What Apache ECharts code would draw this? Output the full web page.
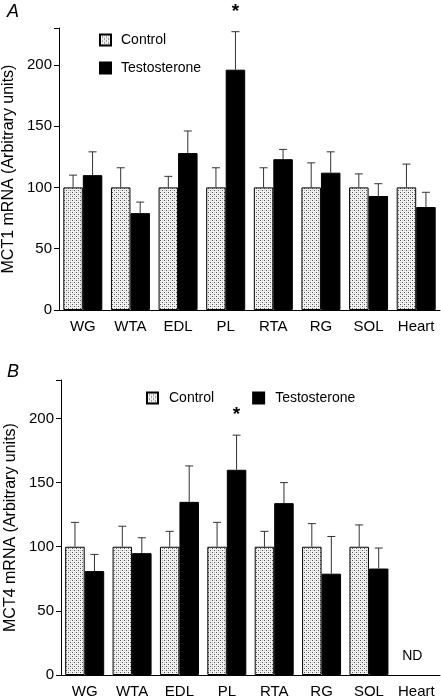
<!DOCTYPE html>
<html>
<head>
<meta charset="utf-8">
<script src="https://cdn.jsdelivr.net/npm/echarts@6/dist/echarts.min.js"></script>
<style>
html,body{margin:0;padding:0;background:#fff;}
#c{width:441px;height:698px;}
</style>
</head>
<body>
<div id="c"></div>
<script>
const categories = ['WG','WTA','EDL','PL','RTA','RG','SOL','Heart'];
const yTicks = [0, 50, 100, 150, 200];
// Panel A: MCT1
const mct1Control    = [100, 100, 100, 100, 100, 100, 100, 100];
const mct1ControlErr = [10, 16, 9, 16, 16, 20, 11, 19];
const mct1Testo      = [110, 79, 128, 196, 123, 112, 93, 84];
const mct1TestoErr   = [19, 9, 18, 31, 8, 17, 10, 12];
const mct1Marks      = ['', '', '', '*', '', '', '', ''];
// Panel B: MCT4
const mct4Control    = [100, 100, 100, 100, 100, 100, 100, null];
const mct4ControlErr = [19, 16, 12, 19, 12, 18, 17, null];
const mct4Testo      = [81, 95, 135, 160, 134, 79, 83, null];
const mct4TestoErr   = [13, 12, 28, 27, 16, 29, 16, null];
const mct4Marks      = ['', '', '', '*', '', '', '', 'ND'];

const FONT = 'Liberation Sans, Arial, sans-serif';
const BW = 19.5;

// stipple pattern for control bars
const pc = document.createElement('canvas');
pc.width = 4; pc.height = 4;
const pctx = pc.getContext('2d');
pctx.fillStyle = '#f2f2f2'; pctx.fillRect(0,0,4,4);
pctx.fillStyle = '#555';
pctx.fillRect(0,0,1,1); pctx.fillRect(2,2,1,1);
pctx.fillStyle = '#c8c8c8';
pctx.fillRect(2,0,1,1); pctx.fillRect(0,2,1,1);
const pattern = {image: pc, repeat: 'repeat'};

function errSeries(name, gi, vals, errs, off){
  return {
    type:'custom', name: name, xAxisIndex: gi, yAxisIndex: gi, z: 5, silent: true,
    legendHoverLink:false,
    data: vals.map((v,i)=>[i, v == null ? NaN : v, errs[i] == null ? NaN : errs[i]]),
    renderItem: function(params, api){
      const i = api.value(0), b = api.value(1), e = api.value(2);
      if (isNaN(b) || isNaN(e)) return;
      const p0 = api.coord([i, b]);
      const p1 = api.coord([i, b + e]);
      const x = p0[0] + off;
      const st = {stroke:'#333', lineWidth:1};
      return {type:'group', children:[
        {type:'line', shape:{x1:x, y1:p0[1], x2:x, y2:p1[1]}, style:st},
        {type:'line', shape:{x1:x-4, y1:p1[1], x2:x+4, y2:p1[1]}, style:st}
      ]};
    }
  };
}

function markSeries(gi, marks, tops){
  return {
    type:'custom', xAxisIndex: gi, yAxisIndex: gi, z: 6, silent:true, clip:false,
    data: marks.map((m,i)=>[i, tops[i] == null ? 0 : tops[i], m]),
    renderItem: function(params, api){
      const i = api.value(0), t = api.value(1);
      const m = marks[i];
      if (!m) return;
      if (m === '*') {
        const p = api.coord([i, t]);
        return {type:'text', x: p[0] + BW/2, y: p[1] - 20,
          style:{text:'*', fontSize:19, fontWeight:'bold', fontFamily:FONT, fill:'#000', align:'center', verticalAlign:'middle'}};
      }
      const p = api.coord([i, 0]);
      return {type:'text', x: p[0] - 4, y: p[1] - 19,
        style:{text:m, fontSize:14, fontFamily:FONT, fill:'#000', align:'center', verticalAlign:'middle'}};
    }
  };
}

const mct1Tops = mct1Testo.map((v,i)=>v + mct1TestoErr[i]);
const mct4Tops = mct4Testo.map((v,i)=>v == null ? null : v + mct4TestoErr[i]);

function xAxis(gi){
  return {
    type:'category', gridIndex: gi, data: categories,
    axisLine:{lineStyle:{color:'#000', width:1}},
    axisTick:{alignWithLabel:true, length:4, lineStyle:{color:'#000'}},
    axisLabel:{color:'#000', fontSize:15, fontFamily:FONT, margin:9, interval:0},
  };
}
function yAxis(gi, name){
  return {
    type:'value', gridIndex: gi, min:0, max:230, interval:50,
    name: name, nameLocation:'middle', nameGap:42, nameRotate:90, nameMoveOverlap:false,
    nameTextStyle:{color:'#000', fontSize:16, fontFamily:FONT},
    axisLine:{show:true, lineStyle:{color:'#000', width:1}},
    axisTick:{show:true, length:5, lineStyle:{color:'#000'}},
    axisLabel:{color:'#000', fontSize:15, fontFamily:FONT, margin:7,
      formatter: v => yTicks.indexOf(v) >= 0 ? String(v) : ''},
    splitLine:{show:false}
  };
}

const barStyleC = {color: pattern, borderColor:'#000', borderWidth:1};
const barStyleT = {color:'#000', borderColor:'#000', borderWidth:1};

const option = {
  animation:false,
  backgroundColor:'#fff',
  title:[
    {text:'A', left:2, top:-2, textStyle:{fontSize:18, fontStyle:'italic', fontWeight:'normal', fontFamily:FONT, color:'#000'}},
    {text:'B', left:2, top:358, textStyle:{fontSize:18, fontStyle:'italic', fontWeight:'normal', fontFamily:FONT, color:'#000'}}
  ],
  legend:[
    {orient:'vertical', left:94, top:28, itemWidth:11, itemHeight:11, itemGap:14, icon:'rect',
     data:['Control','Testosterone'], selectedMode:false,
     textStyle:{fontSize:14, fontFamily:FONT, color:'#000', padding:[0,0,0,5]}},
    {orient:'horizontal', left:141, top:386, itemWidth:11, itemHeight:11, itemGap:38, icon:'rect',
     data:['Control','Testosterone'], selectedMode:false,
     textStyle:{fontSize:14, fontFamily:FONT, color:'#000', padding:[0,0,0,6]}}
  ],
  grid:[
    {left:59, top:28, width:381, height:282, containLabel:false, outerBoundsMode:'none'},
    {left:61, top:380, width:379, height:295, containLabel:false, outerBoundsMode:'none'}
  ],
  xAxis:[xAxis(0), xAxis(1)],
  yAxis:[yAxis(0,'MCT1 mRNA (Arbitrary units)'), yAxis(1,'MCT4 mRNA (Arbitrary units)')],
  series:[
    {type:'bar', name:'Control', xAxisIndex:0, yAxisIndex:0, data:mct1Control, barWidth:BW, barGap:'0%', itemStyle:barStyleC},
    {type:'bar', name:'Testosterone', xAxisIndex:0, yAxisIndex:0, data:mct1Testo, barWidth:BW, barGap:'0%', itemStyle:barStyleT},
    {type:'bar', name:'Control', xAxisIndex:1, yAxisIndex:1, data:mct4Control, barWidth:BW, barGap:'0%', itemStyle:barStyleC},
    {type:'bar', name:'Testosterone', xAxisIndex:1, yAxisIndex:1, data:mct4Testo, barWidth:BW, barGap:'0%', itemStyle:barStyleT},
    errSeries('e1c', 0, mct1Control, mct1ControlErr, -BW/2),
    errSeries('e1t', 0, mct1Testo, mct1TestoErr, BW/2),
    errSeries('e4c', 1, mct4Control, mct4ControlErr, -BW/2),
    errSeries('e4t', 1, mct4Testo, mct4TestoErr, BW/2),
    markSeries(0, mct1Marks, mct1Tops),
    markSeries(1, mct4Marks, mct4Tops)
  ]
};
const chart = echarts.init(document.getElementById('c'), null, {renderer:'canvas'});
chart.setOption(option);
</script>
</body>
</html>
